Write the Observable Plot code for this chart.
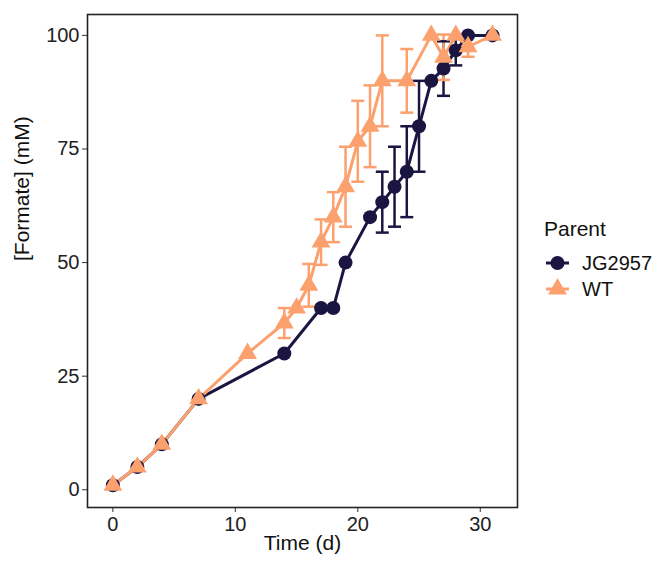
<!DOCTYPE html>
<html>
<head>
<meta charset="utf-8">
<script src="https://cdn.jsdelivr.net/npm/d3@7"></script>
<script src="https://cdn.jsdelivr.net/npm/@observablehq/plot@0.6"></script>
<style>
  html, body { margin: 0; padding: 0; background: #fff; }
  #chart { width: 660px; height: 561px; }
</style>
</head>
<body>
<div id="chart"></div>
<script>
// ---- data ----
const parents = ["JG2957", "WT"];
const colors = ["#1b1542", "#fca06e"];
const symbols = ["circle", "triangle"];

const timeJG = [0, 2, 4, 7, 14, 17, 18, 19, 21, 22, 23, 24, 25, 26, 27, 28, 29, 31];
const formateJG = [1, 5, 10, 20, 30, 40, 40, 50, 60, 63.3, 66.7, 70, 80, 90, 92.7, 96.7, 100, 100];
const sdJG = [0, 0, 0, 0, 0, 0, 0, 0, 0, 6.7, 8.8, 10, 10, 0, 6, 3.3, 0, 0];

const timeWT = [0, 2, 4, 7, 11, 14, 15, 16, 17, 18, 19, 20, 21, 22, 24, 26, 27, 28, 29, 31];
const formateWT = [1, 5, 10, 20, 30, 36.7, 40, 45, 54.5, 60, 66.7, 76.7, 80, 90, 90, 100, 95.2, 100, 97.5, 100];
const sdWT = [0, 0, 0, 0, 0, 3.3, 0, 4.7, 5, 5.5, 8.8, 8.9, 9, 10, 7, 0, 5, 0, 2.2, 0];

const xTicks = [0, 10, 20, 30];
const yTicks = [0, 25, 50, 75, 100];

// ---- table ----
const rows = [
  ...timeJG.map((t, i) => ({parent: "JG2957", t, y: formateJG[i], sd: sdJG[i]})),
  ...timeWT.map((t, i) => ({parent: "WT", t, y: formateWT[i], sd: sdWT[i]}))
];
const errRows = rows.filter(d => d.sd > 0);

const capSymbol = {
  draw(ctx, size) { ctx.moveTo(-6.5, 0); ctx.lineTo(6.5, 0); }
};

const font = "'Liberation Sans', Arial, sans-serif";

function legend(index, scales, values, dimensions) {
  const g = d3.create("svg:g").attr("font-family", font).attr("text-anchor", "start");
  g.append("text").attr("x", 544).attr("y", 229).attr("dy", "0.35em")
    .attr("font-size", 21).attr("fill", "#111").text("Parent");
  parents.forEach((p, i) => {
    const cy = 263 + i * 26;
    g.append("line").attr("x1", 546).attr("x2", 569).attr("y1", cy).attr("y2", cy)
      .attr("stroke", colors[i]).attr("stroke-width", 3);
    const sym = i === 0 ? d3.symbolCircle : d3.symbolTriangle;
    g.append("path").attr("transform", `translate(557.5,${cy})`)
      .attr("d", d3.symbol(sym, Math.PI * 7 * 7)()).attr("fill", colors[i]);
    g.append("text").attr("x", 582).attr("y", cy).attr("dy", "0.35em")
      .attr("font-size", 20).attr("fill", "#111").text(p);
  });
  return g.node();
}

const plot = Plot.plot({
  width: 660,
  height: 561,
  marginLeft: 87,
  marginRight: 143,
  marginTop: 14,
  marginBottom: 54,
  style: {fontFamily: font, background: "#fff"},
  x: {domain: [-2.07, 33.04]},
  y: {domain: [-3.9, 104.6]},
  color: {domain: parents, range: colors},
  symbol: {domain: parents, range: symbols},
  marks: [
    Plot.axisX({ticks: xTicks, tickSize: 5, tickPadding: 4, fontSize: 20, label: null, color: "#222", stroke: "#333"}),
    Plot.axisY({ticks: yTicks, tickSize: 5, tickPadding: 3, fontSize: 20, label: null, color: "#222", stroke: "#333"}),
    Plot.text(["Time (d)"], {frameAnchor: "bottom", dy: 42, fontSize: 21, fill: "#111"}),
    Plot.text(["[Formate] (mM)"], {frameAnchor: "left", dx: -65, rotate: -90, fontSize: 21, fill: "#111"}),
    // error bars
    Plot.ruleX(errRows, {x: "t", y1: d => d.y - d.sd, y2: d => d.y + d.sd, stroke: "parent", strokeWidth: 2.5}),
    Plot.dot(errRows, {x: "t", y: d => d.y + d.sd, symbol: capSymbol, stroke: "parent", fill: "none", strokeWidth: 2.5}),
    Plot.dot(errRows, {x: "t", y: d => d.y - d.sd, symbol: capSymbol, stroke: "parent", fill: "none", strokeWidth: 2.5}),
    // lines
    Plot.line(rows, {x: "t", y: "y", z: "parent", stroke: "parent", strokeWidth: 3}),
    // points
    Plot.dot(rows, {x: "t", y: "y", fill: "parent", symbol: "parent", r: 7}),
    Plot.frame({stroke: "#222", strokeWidth: 1.6}),
    legend
  ]
});

document.getElementById("chart").appendChild(plot);
</script>
</body>
</html>
